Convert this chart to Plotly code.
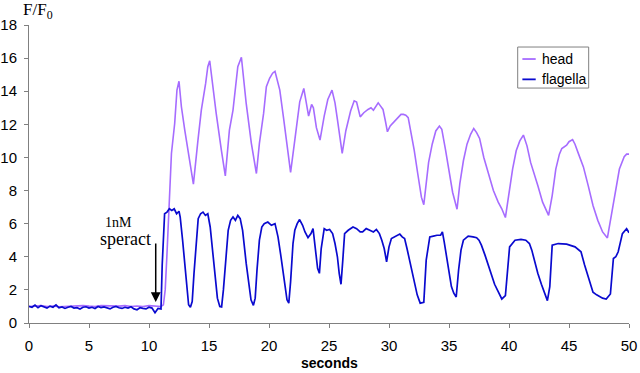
import plotly.graph_objects as go

# ---- data ----
flag_t = [0, 0.25, 0.5, 0.75, 1, 1.25, 1.5, 1.75, 2, 2.25, 2.5, 2.75, 3, 3.25, 3.5, 3.75,
          4, 4.25, 4.5, 4.75, 5, 5.25, 5.5, 5.75, 6, 6.25, 6.5, 6.75, 7, 7.25, 7.5, 7.75,
          8, 8.25, 8.5, 8.75, 9, 9.25, 9.5, 9.75, 10, 10.25, 10.5, 10.75, 11.0,
          11.1, 11.3, 11.5, 11.7, 11.9, 12.1, 12.3, 12.5, 12.6, 12.8, 12.97, 13.15, 13.3, 13.45,
          13.6, 13.75, 13.9, 14.1, 14.3, 14.5, 14.7, 14.9, 15.1, 15.28, 15.5, 15.7, 15.9, 16.05,
          16.2, 16.4, 16.6, 16.8, 17.0, 17.2, 17.4, 17.6, 17.8, 18.1, 18.3, 18.5, 18.7, 18.85,
          19.0, 19.2, 19.4, 19.6, 19.9, 20.2, 20.5, 20.75, 21.0, 21.3, 21.5, 21.65, 21.8, 22.0,
          22.15, 22.35, 22.55, 22.8, 23.0, 23.25, 23.5, 23.67, 23.8, 23.9, 24.05, 24.2, 24.35,
          24.6, 24.8, 25.05, 25.3, 25.5, 25.7, 25.85, 26.0, 26.15, 26.3, 26.6, 27.0, 27.3, 27.6,
          27.8, 28.1, 28.4, 28.7, 28.95, 29.2, 29.4, 29.6, 29.8, 30.0, 30.2, 30.5, 30.9, 31.1,
          31.3, 31.5, 31.7, 31.9, 32.1, 32.35, 32.6, 32.9, 33.1, 33.4, 33.7, 34.0, 34.3, 34.45,
          34.6, 34.8, 35.0, 35.2, 35.4, 35.6, 35.8, 36.0, 36.2, 36.6, 37.0, 37.3, 37.5, 37.7,
          38.0, 38.25, 38.5, 38.8, 39.1, 39.4, 39.7, 39.85, 40.05, 40.5, 41.0, 41.4, 41.7, 41.9,
          42.1, 42.4, 42.7, 43.0, 43.2, 43.4, 43.6, 44.1, 44.8, 45.5, 46.0, 46.3, 46.6, 47.0,
          47.3, 47.56, 47.8, 48.1, 48.45, 48.7, 48.9, 49.1, 49.45, 49.8, 50.0]
flag_v = [1.0, 0.95, 1.08, 0.92, 1.05, 0.98, 0.9, 1.02, 0.95, 1.1, 0.92, 0.97, 0.88, 0.95, 1.0, 0.9,
          0.93, 0.85, 0.95, 0.98, 0.9, 0.95, 0.88, 1.0, 0.93, 0.97, 0.9, 0.85, 0.95, 1.0, 0.92, 0.88,
          0.95, 0.9, 0.98, 0.85, 0.8, 0.92, 0.88, 0.85, 0.95, 0.9, 0.62, 0.88, 0.85,
          3.5, 6.6, 6.7, 6.9, 6.8, 6.9, 6.6, 6.75, 6.4, 5.0, 3.6, 2.0, 1.1, 0.95,
          1.3, 3.0, 4.6, 6.3, 6.6, 6.7, 6.5, 6.6, 5.8, 4.6, 2.8, 1.5, 1.0, 0.97,
          2.0, 4.0, 5.6, 6.2, 6.4, 6.2, 6.5, 6.3, 5.6, 3.6, 2.3, 1.4, 1.07, 1.5,
          3.2, 5.0, 5.8, 6.0, 6.1, 5.9, 6.0, 5.2, 4.0, 2.5, 1.4, 1.2, 2.5, 4.8,
          5.6, 6.0, 6.25, 5.9, 5.5, 5.16, 5.4, 5.7, 4.8, 4.0, 3.3, 3.0, 4.5,
          5.7, 5.6, 5.65, 5.4, 4.8, 4.0, 3.0, 2.34, 3.8, 5.4, 5.6, 5.8, 5.7, 5.5,
          5.5, 5.7, 5.6, 5.5, 5.65, 5.4, 5.0, 4.5, 3.7, 4.6, 5.1, 5.2, 5.37, 5.2,
          5.1, 4.5, 3.8, 3.1, 2.38, 1.7, 1.2, 1.25, 3.8, 5.2, 5.25, 5.3, 5.3, 5.5,
          4.9, 4.0, 3.0, 2.2, 1.8, 1.57, 3.2, 4.4, 5.0, 5.25, 5.2, 5.15, 5.0, 4.7,
          4.1, 3.56, 3.0, 2.34, 1.9, 1.45, 1.65, 3.0, 4.6, 5.0, 5.05, 5.0, 4.8, 4.4,
          3.8, 3.0, 2.34, 1.8, 1.35, 2.2, 4.7, 4.8, 4.76, 4.6, 4.3, 3.5, 2.8, 1.86,
          1.7, 1.57, 1.5, 1.45, 1.75, 3.9, 4.0, 4.3, 5.4, 5.7, 5.45]

head_t = [0, 0.5, 1, 1.5, 2, 2.5, 3, 3.5, 4, 4.5, 5, 5.5, 6, 6.5, 7, 7.5, 8, 8.5, 9, 9.5, 10,
          10.5, 11.0, 11.2, 11.35, 11.5, 11.65, 11.87, 12.14, 12.33, 12.5, 12.7, 12.98, 13.17,
          13.4, 13.7, 14.08, 14.36, 14.72, 14.9, 15.06, 15.33, 15.6, 16.03, 16.36, 16.7, 17.0,
          17.4, 17.7, 18.1, 18.53, 18.95, 19.2, 19.55, 19.78, 20.05, 20.3, 20.5, 20.9, 21.2,
          21.45, 21.8, 22.15, 22.56, 22.9, 23.1, 23.3, 23.55, 23.7, 23.95, 24.25, 24.6, 24.9,
          25.25, 25.5, 25.7, 25.9, 26.1, 26.4, 26.8, 27.1, 27.3, 27.6, 27.9, 28.25, 28.5, 28.7,
          28.95, 29.1, 29.3, 29.5, 29.7, 29.87, 30.1, 30.3, 30.5, 30.75, 31.0, 31.2, 31.4, 31.6,
          31.85, 32.1, 32.4, 32.7, 32.9, 33.1, 33.3, 33.6, 33.9, 34.2, 34.4, 34.7, 35.0, 35.3,
          35.67, 35.9, 36.2, 36.5, 36.8, 37.06, 37.3, 37.55, 37.9, 38.3, 38.7, 39.1, 39.4, 39.7,
          40.0, 40.3, 40.6, 40.9, 41.2, 41.5, 41.8, 42.1, 42.4, 42.8, 43.3, 43.6, 43.9, 44.2,
          44.4, 44.8, 45.0, 45.3, 45.5, 45.8, 46.2, 46.6, 47.0, 47.4, 47.8, 48.2, 48.5, 48.95,
          49.2, 49.6, 49.8, 50.0]
head_v = [1.0, 1.02, 1.05, 1.0, 1.03, 0.98, 1.0, 1.02, 1.0, 1.05, 1.02, 1.0, 1.05, 1.03, 1.0,
          1.02, 1.05, 1.0, 1.03, 1.0, 1.05, 1.02, 1.0, 1.1, 2.0, 4.2, 6.8, 10.24, 12.05, 14.07,
          14.6, 13.06, 11.65, 10.85, 9.64, 8.39, 11.05, 12.86, 14.47, 15.48, 15.84, 14.2, 12.66,
          10.44, 8.89, 11.65, 12.86, 15.48, 16.05, 13.26, 10.85, 9.03, 10.85, 12.66, 14.27,
          14.78, 15.09, 15.2, 14.07, 12.45, 11.05, 9.1, 11.05, 13.36, 14.17, 13.3, 12.5, 13.2,
          13.0, 11.8, 11.05, 12.5, 13.5, 14.07, 13.3, 12.3, 11.25, 10.24, 11.6, 12.8, 13.42,
          13.35, 12.45, 12.7, 12.9, 13.0, 12.85, 13.16, 13.3, 13.1, 12.9, 12.2, 11.55, 11.9,
          12.05, 12.25, 12.4, 12.6, 12.6, 12.55, 12.4, 11.5, 10.44, 9.0, 7.6, 7.15, 8.3, 9.7,
          10.8, 11.6, 11.9, 11.7, 10.5, 9.2, 7.9, 6.87, 8.4, 9.8, 10.8, 11.4, 11.75, 11.5,
          11.15, 10.0, 9.0, 8.0, 7.3, 6.9, 6.37, 7.8, 9.3, 10.4, 11.0, 11.35, 10.7, 9.7, 9.03,
          8.3, 7.3, 6.5, 7.7, 9.3, 10.2, 10.54, 10.74, 10.95, 11.08, 10.8, 10.2, 9.43, 8.3,
          7.1, 6.2, 5.5, 5.14, 6.4, 8.43, 9.3, 10.04, 10.2, 10.2]

x_ticks = [0, 5, 10, 15, 20, 25, 30, 35, 40, 45, 50]
y_ticks = [0, 2, 4, 6, 8, 10, 12, 14, 16, 18]
series_names = ["head", "flagella"]
series_colors = ["#A66CFF", "#0A0ACF"]

SANS = "Liberation Sans, Arial, sans-serif"
SERIF = "Liberation Serif, Times New Roman, serif"

fig = go.Figure()
fig.add_trace(go.Scatter(x=head_t, y=head_v, mode="lines", name=series_names[0],
                         line=dict(color=series_colors[0], width=1.6)))
fig.add_trace(go.Scatter(x=flag_t, y=flag_v, mode="lines", name=series_names[1],
                         line=dict(color=series_colors[1], width=1.7)))

# legend box drawn as a compact key (paper coordinates)
leg_x0, leg_x1, leg_y0, leg_y1 = 0.8145, 0.9328, 0.7884, 0.9261
leg_rows = [0.8858, 0.8176]
shapes = [dict(type="rect", xref="paper", yref="paper", x0=leg_x0, x1=leg_x1,
               y0=leg_y0, y1=leg_y1, line=dict(color="#808080", width=1),
               fillcolor="white", layer="above")]
annotations = []
for name, col, yy in zip(series_names, series_colors, leg_rows):
    shapes.append(dict(type="line", xref="paper", yref="paper", x0=0.8223, x1=0.8445,
                       y0=yy, y1=yy, line=dict(color=col, width=1.8), layer="above"))
    annotations.append(dict(text=name, x=0.8523, y=yy, xref="paper", yref="paper",
                            xanchor="left", yanchor="middle", showarrow=False,
                            font=dict(family=SANS, size=14, color="black")))

annotations += [
    dict(text="<b>seconds</b>", x=0.5, y=-0.135, xref="paper", yref="paper",
         xanchor="center", yanchor="middle", showarrow=False,
         font=dict(family=SANS, size=14, color="black")),
    dict(text="F/F<sub>0</sub>", x=-0.0138, y=1.047, xref="paper", yref="paper",
         xanchor="left", yanchor="middle", showarrow=False,
         font=dict(family=SERIF, size=17, color="black")),
    dict(text="1nM", x=7.47, y=6.06, xref="x", yref="y", showarrow=False,
         xanchor="center", yanchor="middle",
         font=dict(family=SERIF, size=14, color="black")),
    dict(text="speract", x=8.06, y=5.06, xref="x", yref="y", showarrow=False,
         xanchor="center", yanchor="middle",
         font=dict(family=SERIF, size=18, color="black")),
    dict(text="", x=10.56, y=1.27, ax=10.56, ay=4.9, xref="x", yref="y",
         axref="x", ayref="y", showarrow=True, arrowhead=2, arrowsize=1.3,
         arrowwidth=1.5, arrowcolor="black"),
]

fig.update_layout(
    width=640, height=373,
    margin=dict(l=29, r=11, t=25, b=50, autoexpand=False),
    paper_bgcolor="white", plot_bgcolor="white",
    showlegend=False,
    xaxis=dict(range=[0, 50], tickvals=x_ticks, ticks="outside", ticklen=4,
               tickcolor="#808080", showline=True, linecolor="#808080", linewidth=1,
               showgrid=False, zeroline=False, ticklabelstandoff=5, automargin=False,
               tickfont=dict(family=SANS, size=15, color="black")),
    yaxis=dict(range=[0, 18], tickvals=y_ticks, ticks="outside", ticklen=4,
               tickcolor="#808080", showline=True, linecolor="#808080", linewidth=1,
               showgrid=False, zeroline=False, ticklabelstandoff=4, automargin=False,
               tickfont=dict(family=SANS, size=15, color="black")),
    shapes=shapes,
    annotations=annotations,
)

fig.write_html("out.html", config={"displayModeBar": False},
               post_script="document.body.style.margin='0px';")
